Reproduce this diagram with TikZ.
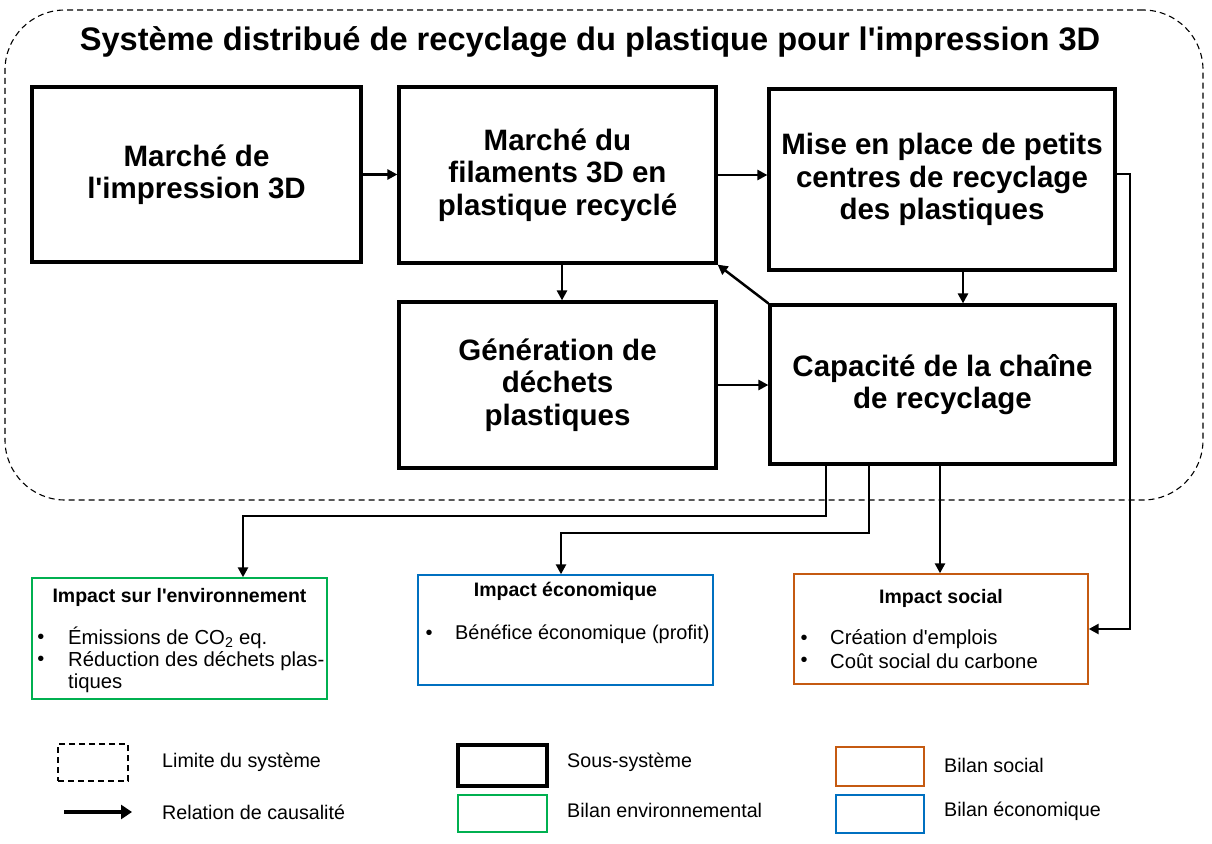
\documentclass[tikz,border=0pt]{standalone}
\usepackage{fontspec}
\setmainfont{Liberation Sans}
\usetikzlibrary{arrows.meta}
\definecolor{envgreen}{RGB}{0,176,80}
\definecolor{ecoblue}{RGB}{0,112,192}
\definecolor{socorange}{RGB}{197,90,17}
\newcommand{\ap}{\textquotesingle}
\tikzset{
  sub/.style={draw=black,line width=3.2pt,align=center,inner sep=0pt,
    font=\fontsize{29.5}{32.5}\selectfont\bfseries},
  impact/.style={draw,line width=1.4pt,inner sep=0pt},
  arr/.style={line width=2.5pt,-{Triangle[length=10pt,width=10pt]}},
  ititle/.style={font=\fontsize{19.5}{22}\selectfont\bfseries,inner sep=0pt},
  itext/.style={font=\fontsize{20.3}{22}\selectfont,inner sep=0pt,anchor=west},
  bul/.style={font=\fontsize{20}{22}\selectfont,inner sep=0pt},
  legtext/.style={font=\fontsize{19.7}{22}\selectfont,inner sep=0pt,anchor=west},
}
\begin{document}
\begin{tikzpicture}[x=1pt,y=-1pt]
\useasboundingbox (0,0) rectangle (1212,843);
% system boundary
\node[draw,dash pattern=on 6pt off 4pt,line width=1.1pt,rounded corners=60pt,
  minimum width=1198pt,minimum height=490pt,inner sep=0pt] (sys) at (604,255) {};
\node[font=\fontsize{32.6}{36}\selectfont\bfseries,inner sep=0pt] (title) at (590,42)
  {Système distribué de recyclage du plastique pour l\ap impression 3D};
% subsystems
\node[sub,minimum width=329pt,minimum height=175pt] (A) at (196.5,174.5) {Marché de\\l\ap impression 3D};
\node[sub,minimum width=317pt,minimum height=176pt] (B) at (557.5,175) {Marché du\\filaments 3D en\\plastique recyclé};
\node[sub,minimum width=346pt,minimum height=181pt] (C) at (942,179.5) {Mise en place de petits\\centres de recyclage\\des plastiques};
\node[sub,minimum width=317pt,minimum height=166pt] (D) at (557.5,385) {Génération de\\déchets\\plastiques};
\node[sub,minimum width=345pt,minimum height=159pt] (E) at (942.5,384.5) {Capacité de la chaîne\\de recyclage};
% impact boxes
\node[impact,draw=envgreen,minimum width=295pt,minimum height=121pt] (env) at (179.5,638.5) {};
\node[impact,draw=ecoblue,minimum width=295pt,minimum height=110pt] (eco) at (565.5,630) {};
\node[impact,draw=socorange,minimum width=294pt,minimum height=110pt] (soc) at (941,629) {};
% env content
\node[ititle] (envt) at (179.5,597) {Impact sur l\ap environnement};
\node[bul] (envb1) at (41,639) {•};
\node[bul] (envb2) at (41,661) {•};
\node[itext] (envl1) at (68,638) {Émissions de CO\textsubscript{2} eq.};
\node[itext] (envl2) at (68,661) {Réduction des déchets plas-};
\node[itext] (envl3) at (68,683) {tiques};
% eco content
\node[ititle] (ecot) at (565.5,591) {Impact économique};
\node[bul] (ecob1) at (429,635) {•};
\node[itext,font=\fontsize{19.9}{22}\selectfont] (ecol1) at (455,634) {Bénéfice économique (profit)};
% soc content
\node[ititle] (soct) at (941,598) {Impact social};
\node[bul] (socb1) at (804,640) {•};
\node[bul] (socb2) at (804,662) {•};
\node[itext] (socl1) at (830,639) {Création d\ap emplois};
\node[itext] (socl2) at (830,661) {Coût social du carbone};
% connectors inside system
\draw[arr] (A.east) -- (A.east -| B.west);
\draw[arr] (B.east) -- (B.east -| C.west);
\coordinate (bd) at (562,0);
\draw[arr] (B.south -| bd) -- (D.north -| bd);
\coordinate (ce) at (963,0);
\draw[arr] (C.south -| ce) -- (E.north -| ce);
\draw[arr] (D.east) -- (D.east -| E.west);
\draw[arr] (E.north west) -- (B.south east);
% connectors to impacts
\coordinate (k1) at (826,516);
\coordinate (k2) at (243,516);
\draw[arr] (E.south -| k1) -- (k1) -- (k2) -- (env.north -| k2);
\coordinate (m1) at (869,533);
\coordinate (m2) at (561,533);
\draw[arr] (E.south -| m1) -- (m1) -- (m2) -- (eco.north -| m2);
\coordinate (s1) at (940,0);
\draw[arr] (E.south -| s1) -- (soc.north -| s1);
\coordinate (c1) at (1130,174);
\coordinate (c2) at (1130,629);
\draw[arr] (C.east |- c1) -- (c1) -- (c2) -- (soc.east |- c2);
% legend
\node[draw,dash pattern=on 6pt off 4pt,line width=1.1pt,minimum width=70pt,minimum height=37pt,inner sep=0pt] (lg1) at (93,762.5) {};
\node[legtext] (lg1t) at (162,762) {Limite du système};
\coordinate (la) at (64,812);
\coordinate (lb) at (132,812);
\draw[line width=3.8pt,-{Triangle[length=11pt,width=14pt]}] (la) -- (lb);
\node[legtext] (lg2t) at (162,812) {Relation de causalité};
\node[draw,line width=3.2pt,minimum width=89pt,minimum height=41pt,inner sep=0pt] (lg3) at (502.5,765.5) {};
\node[legtext] (lg3t) at (567,762) {Sous-système};
\node[draw=envgreen,line width=1.4pt,minimum width=89pt,minimum height=37pt,inner sep=0pt] (lg4) at (502.5,813.5) {};
\node[legtext] (lg4t) at (567,810) {Bilan environnemental};
\node[draw=socorange,line width=1.4pt,minimum width=88pt,minimum height=39pt,inner sep=0pt] (lg5) at (880,766.5) {};
\node[legtext] (lg5t) at (944,765) {Bilan social};
\node[draw=ecoblue,line width=1.4pt,minimum width=88pt,minimum height=38pt,inner sep=0pt] (lg6) at (880,814) {};
\node[legtext] (lg6t) at (944,811) {Bilan économique};
\end{tikzpicture}
\end{document}
